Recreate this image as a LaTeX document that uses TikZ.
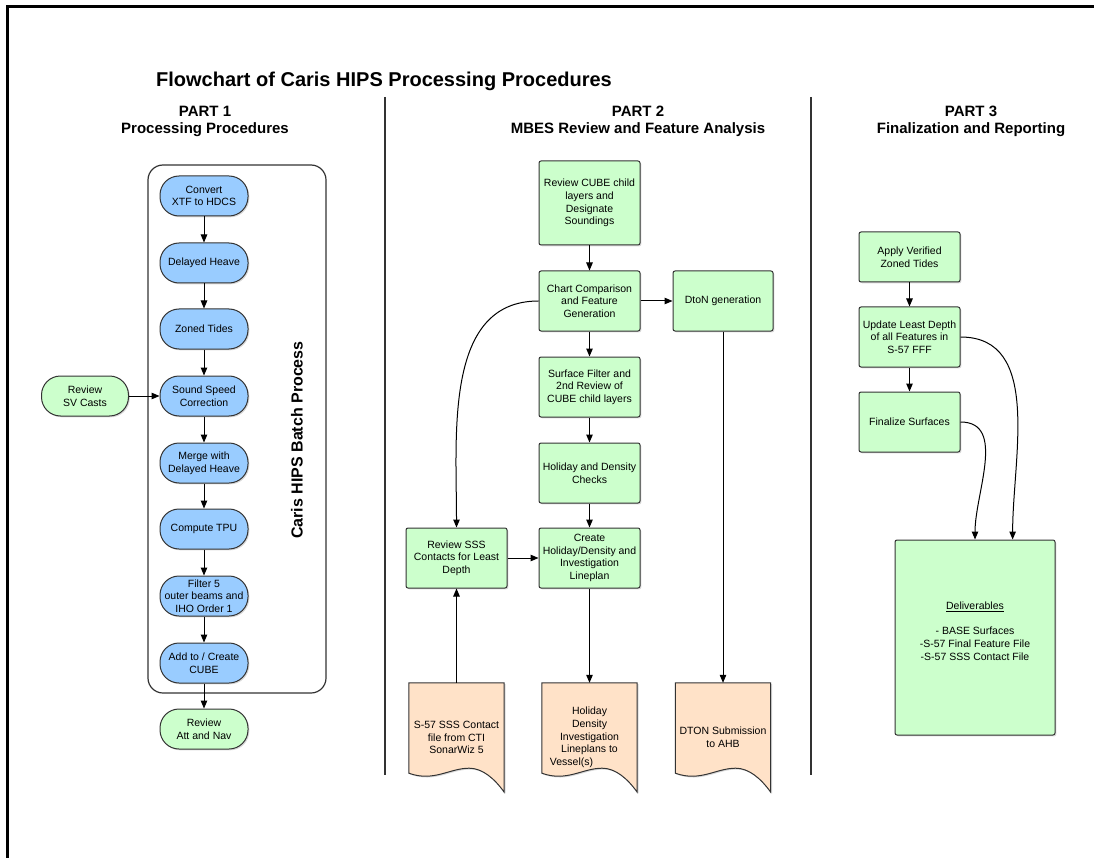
\documentclass[tikz,border=0pt]{standalone}
\usepackage{fontspec}
\setmainfont{Liberation Sans}
\usetikzlibrary{arrows.meta}
\usetikzlibrary{calc}
\usetikzlibrary{shadows}
\usetikzlibrary{backgrounds}

\definecolor{pillblue}{RGB}{153,204,255}
\definecolor{stepgreen}{RGB}{204,255,204}
\definecolor{docpeach}{RGB}{255,226,200}
\definecolor{edgegray}{RGB}{51,51,51}

\newcommand{\boxfont}{\fontsize{10.5pt}{12.7pt}\selectfont}
\newcommand{\docoutline}[1]{%
  \draw[docline] (#1.north west) -- (#1.north east) -- (#1.south east)
    .. controls ($(#1.south east)+(-10,14)$) and ($(#1.south east)+(-22,24)$) .. ($(#1.south east)+(-35,24)$)
    .. controls ($(#1.south east)+(-55,24)$) and ($(#1.south west)+(25,10)$) .. ($(#1.south west)+(0,19)$)
    -- cycle;}

\begin{document}
\begin{tikzpicture}[x=1pt, y=1pt, >={Triangle[length=8pt,width=6.5pt]},
    shadowed/.style={drop shadow={shadow xshift=1.3pt, shadow yshift=-1.3pt, opacity=0.3}},
    pill/.style={rectangle, rounded corners=19pt, draw=edgegray, fill=pillblue, line width=1pt, minimum width=88pt, minimum height=40pt, inner sep=1pt, align=center, font=\boxfont, shadowed},
    greenpill/.style={pill, fill=stepgreen},
    stepbox/.style={rectangle, rounded corners=2pt, draw=edgegray, fill=stepgreen, line width=1pt, minimum width=101pt, minimum height=60pt, inner sep=1pt, align=center, font=\boxfont, shadowed},
    docbox/.style={rectangle, minimum width=95pt, minimum height=109pt, inner sep=0pt, align=center, font=\boxfont},
    docline/.style={draw=edgegray, fill=docpeach, line width=1pt, shadowed},
    flow/.style={->, line width=1pt},
    head/.style={font=\bfseries\fontsize{15pt}{17pt}\selectfont, anchor=base}]

    \useasboundingbox (0,0) rectangle (1094,-858);
    \draw[line width=2.2pt] (7.5,-858) -- (7.5,-6.5) -- (1094,-6.5);

    \node[font=\bfseries\fontsize{20pt}{24pt}\selectfont, anchor=base] (title) at (384,-87) {Flowchart of Caris HIPS Processing Procedures};
    \node[head] (p1head) at (205,-117) {PART 1};
    \node[head] (p1sub) at (205,-134) {Processing Procedures};
    \node[head] (p2head) at (638,-117) {PART 2};
    \node[head] (p2sub) at (638,-134) {MBES Review and Feature Analysis};
    \node[head] (p3head) at (971,-117) {PART 3};
    \node[head] (p3sub) at (971,-134) {Finalization and Reporting};

    \draw[edgegray, line width=1.2pt] (385,-97) -- (385,-775);
    \draw[edgegray, line width=1.2pt] (811,-97) -- (811,-775);

    \node[draw=edgegray, line width=1.2pt, rounded corners=15pt, minimum width=178pt, minimum height=528pt] (batch) at (237,-429) {};
    \node[rotate=90, font=\bfseries\fontsize{16pt}{19pt}\selectfont] (batchlbl) at (297,-440) {Caris HIPS Batch Process};

    \node[pill] (conv) at (204,-196) {Convert\\XTF to HDCS};
    \node[pill] (heave) at (204,-263) {Delayed Heave};
    \node[pill] (tides) at (204,-329) {Zoned Tides};
    \node[pill] (sound) at (204,-396) {Sound Speed\\Correction};
    \node[pill] (merge) at (204,-463) {Merge with\\Delayed Heave};
    \node[pill] (tpu) at (204,-529) {Compute TPU};
    \node[pill] (filter) at (204,-596) {Filter 5\\outer beams and\\IHO Order 1};
    \node[pill] (cube) at (204,-663) {Add to / Create\\CUBE};
    \node[greenpill] (attnav) at (204,-729) {Review\\Att and Nav};
    \node[greenpill, minimum width=87pt] (svcast) at (85,-396) {Review\\SV Casts};

    \node[stepbox, minimum height=84pt] (revcube) at (589.5,-203) {Review CUBE child\\layers and\\Designate\\Soundings};
    \node[stepbox] (chart) at (589.5,-301) {Chart Comparison\\and Feature\\Generation};
    \node[stepbox, minimum width=100pt] (dton) at (723,-301) {DtoN generation};
    \node[stepbox] (surf) at (589.5,-387) {Surface Filter and\\2nd Review of\\CUBE child layers};
    \node[stepbox] (holchk) at (589.5,-473) {Holiday and Density\\Checks};
    \node[stepbox] (create) at (589.5,-558) {Create\\Holiday/Density and\\Investigation\\Lineplan};
    \node[stepbox] (sss) at (456.5,-558) {Review SSS\\Contacts for Least\\Depth};

    \node[docbox] (sssdoc) at (456.5,-737.5) {S-57 SSS Contact\\file from CTI\\SonarWiz 5};
    \node[docbox] (holdoc) at (589.5,-737.5) {Holiday\\Density\\Investigation\\Lineplans to\\\hspace*{-36pt}Vessel(s)};
    \node[docbox] (dtondoc) at (723,-737.5) {DTON Submission\\to AHB};
    \begin{scope}[on background layer]
      \docoutline{sssdoc}
      \docoutline{holdoc}
      \docoutline{dtondoc}
    \end{scope}

    \node[stepbox, minimum height=50pt] (apply) at (909.5,-257) {Apply Verified\\Zoned Tides};
    \node[stepbox] (update) at (909.5,-337) {Update Least Depth\\of all Features in\\S-57 FFF};
    \node[stepbox] (final) at (909.5,-422) {Finalize Surfaces};
    \node[stepbox, minimum width=160pt, minimum height=195pt] (deliv) at (975,-637.5) {\underline{Deliverables}\\ \\- BASE Surfaces\\-S-57 Final Feature File\\-S-57 SSS Contact File\\ \mbox{}};

    \draw[flow] (conv) -- (heave);
    \draw[flow] (heave) -- (tides);
    \draw[flow] (tides) -- (sound);
    \draw[flow] (sound) -- (merge);
    \draw[flow] (merge) -- (tpu);
    \draw[flow] (tpu) -- (filter);
    \draw[flow] (filter) -- (cube);
    \draw[flow] (cube) -- (attnav);
    \draw[flow] (svcast) -- (sound);

    \draw[flow] (revcube) -- (chart);
    \draw[flow] (chart) -- (surf);
    \draw[flow] (surf) -- (holchk);
    \draw[flow] (holchk) -- (create);
    \draw[flow] (chart) -- (dton);
    \draw[flow] (sss) -- (create);
    \draw[flow] (sssdoc) -- (sss);
    \draw[flow] (create) -- (holdoc);
    \draw[flow] (dton) -- (dtondoc);
    \draw[flow] (chart.west) to[out=180, in=90] (sss.north);

    \draw[flow] (apply) -- (update);
    \draw[flow] (update) -- (final);
    \draw[flow] (update.east) to[out=0, in=90] (deliv.69);
    \draw[flow] (final.east) to[out=0, in=90] (deliv.north);
  \end{tikzpicture}
\end{document}
